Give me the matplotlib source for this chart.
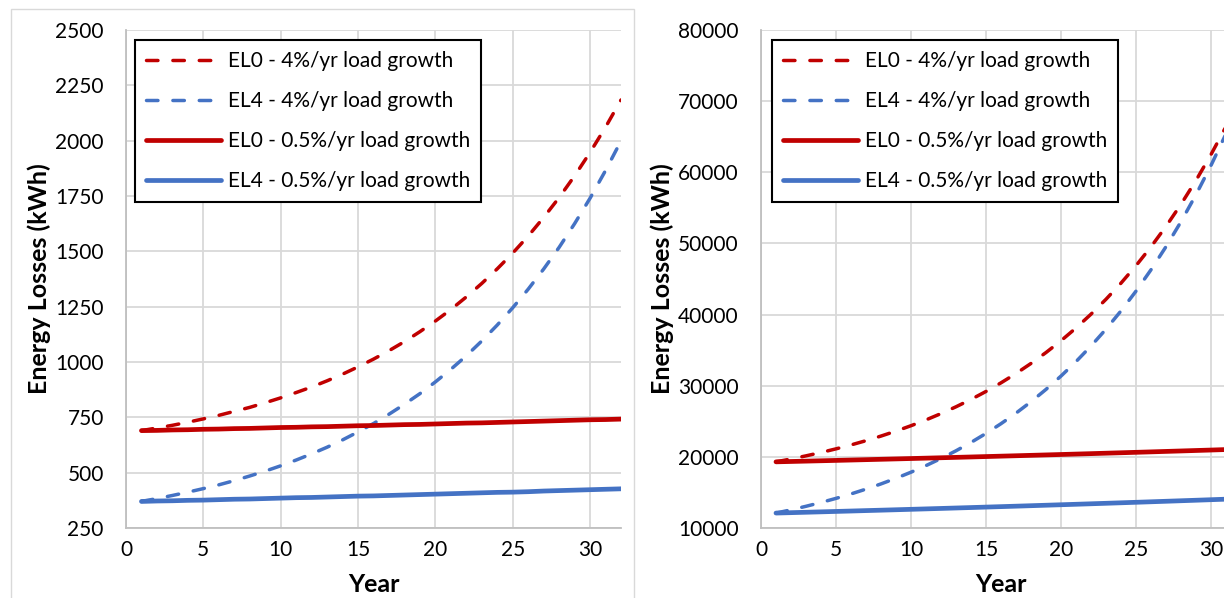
import matplotlib
matplotlib.use('Agg')
import matplotlib.pyplot as plt
from matplotlib.patches import Rectangle

plt.rcParams['font.family'] = ['Lato', 'DejaVu Sans']

years = list(range(1, 33))

# left chart (kWh)
left_el0_4 = [690, 702, 714, 728, 743, 759, 777, 795, 816, 838, 862, 887, 915, 945, 978, 1013,
              1051, 1092, 1137, 1185, 1237, 1294, 1355, 1421, 1492, 1569, 1653, 1743, 1841, 1947, 2061, 2184]
left_el4_4 = [370, 383, 397, 412, 428, 445, 464, 485, 507, 531, 557, 585, 615, 648, 684, 722,
              764, 809, 857, 910, 967, 1028, 1095, 1167, 1245, 1329, 1420, 1518, 1625, 1740, 1865, 1999]
left_el0_05 = [690, 691, 693, 694, 696, 697, 699, 700, 702, 704, 705, 707, 708, 710, 712, 713,
               715, 717, 718, 720, 722, 724, 725, 727, 729, 731, 733, 735, 737, 739, 740, 742]
left_el4_05 = [370, 372, 373, 375, 376, 378, 380, 381, 383, 385, 387, 388, 390, 392, 394, 395,
               397, 399, 401, 403, 405, 407, 409, 411, 412, 414, 417, 419, 421, 423, 425, 427]

# right chart (kWh)
right_el0_4 = [19300, 19704, 20141, 20613, 21125, 21677, 22275, 22922, 23621, 24378, 25196, 26081,
               27038, 28074, 29194, 30405, 31715, 33132, 34664, 36322, 38115, 40054, 42152, 44420,
               46874, 49528, 52399, 55503, 58861, 62493, 66422, 70671]
right_el4_4 = [12100, 12557, 13051, 13586, 14164, 14789, 15466, 16198, 16989, 17844, 18770, 19771,
               20854, 22026, 23293, 24663, 26145, 27748, 29482, 31357, 33386, 35580, 37952, 40519,
               43295, 46298, 49545, 53057, 56856, 60965, 65410, 70217]
right_el0_05 = [19300, 19350, 19400, 19450, 19501, 19553, 19605, 19658, 19711, 19765, 19819, 19874,
                19929, 19985, 20042, 20099, 20156, 20214, 20273, 20332, 20392, 20452, 20514, 20576,
                20638, 20701, 20765, 20829, 20894, 20959, 21026, 21092]
right_el4_05 = [12100, 12156, 12213, 12270, 12328, 12386, 12446, 12505, 12565, 12626, 12687, 12749,
                12812, 12875, 12939, 13003, 13068, 13134, 13201, 13268, 13335, 13404, 13473, 13543,
                13614, 13685, 13757, 13830, 13903, 13977, 14052, 14128]

labels = ['EL0 - 4%/yr load growth', 'EL4 - 4%/yr load growth',
          'EL0 - 0.5%/yr load growth', 'EL4 - 0.5%/yr load growth']

RED = '#C00000'
BLUE = '#4472C4'
W, H = 1224, 598

fig = plt.figure(figsize=(12.24, 5.98), dpi=100)

# chart frame (excel style)
fig.add_artist(Rectangle((11 / W, -0.1), (634 - 11) / W, 1.1 - 9 / H, transform=fig.transFigure,
                         fill=False, edgecolor='#D9D9D9', lw=1.0))


def make_axes(x0, x1, series, yticks, legend_x):
    ax = fig.add_axes([x0 / W, 1 - 528 / H, (x1 - x0) / W, (528 - 30) / H])
    el0_4, el4_4, el0_05, el4_05 = series
    ax.plot(years, el0_4, color=RED, lw=2.5, dashes=(3.3, 4.3), dash_capstyle='round', label=labels[0])
    ax.plot(years, el4_4, color=BLUE, lw=2.5, dashes=(3.3, 4.3), dash_capstyle='round', label=labels[1])
    ax.plot(years, el0_05, color=RED, lw=3.4, solid_capstyle='round', label=labels[2])
    ax.plot(years, el4_05, color=BLUE, lw=3.4, solid_capstyle='round', label=labels[3])
    ax.set_xlim(0, 32)
    ax.set_ylim(yticks[0], yticks[-1])
    ax.set_xticks(range(0, 31, 5))
    ax.set_yticks(yticks)
    ax.grid(True, color='#D9D9D9', lw=1.3)
    ax.set_axisbelow(True)
    for s in ['top', 'right']:
        ax.spines[s].set_visible(False)
    for s in ['left', 'bottom']:
        ax.spines[s].set_color('#BFBFBF')
        ax.spines[s].set_linewidth(1.3)
    ax.tick_params(length=0, labelsize=15, colors='#000000')
    ax.tick_params(axis='y', pad=16)
    ax.tick_params(axis='x', pad=9)
    ax.set_xlabel('Year', fontsize=18, fontweight='bold', labelpad=9)
    ax.set_ylabel('Energy Losses (kWh)', fontsize=18, fontweight='bold', labelpad=3)
    leg = ax.legend(loc='upper left', bbox_to_anchor=(legend_x, 0.98), borderaxespad=0,
                    fontsize=15, fancybox=False, framealpha=1, edgecolor='black',
                    handlelength=3.6, handletextpad=0.3, labelspacing=0.95, borderpad=0.55)
    leg.get_frame().set_linewidth(1.5)
    return ax


make_axes(126, 621, (left_el0_4, left_el4_4, left_el0_05, left_el4_05),
          [250, 500, 750, 1000, 1250, 1500, 1750, 2000, 2250, 2500], 0.018)
make_axes(761, 1241, (right_el0_4, right_el4_4, right_el0_05, right_el4_05),
          [10000, 20000, 30000, 40000, 50000, 60000, 70000, 80000], 0.023)

fig.savefig('out.png', dpi=100)
